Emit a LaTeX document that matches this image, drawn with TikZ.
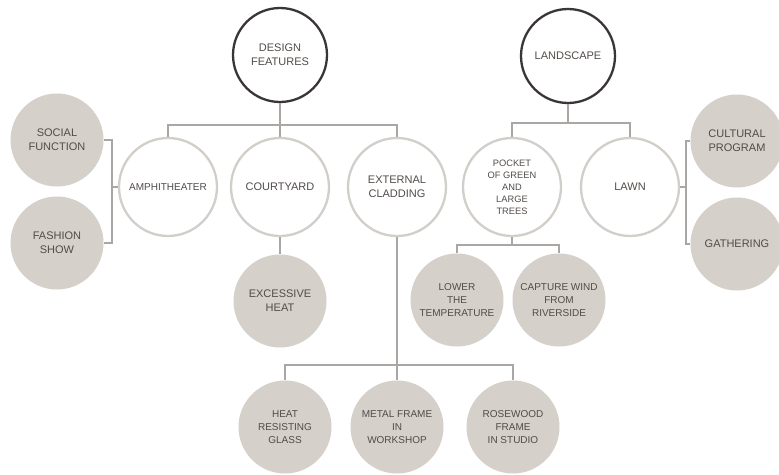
\documentclass[tikz,border=0pt]{standalone}
\usepackage{fontspec}
\setmainfont{Liberation Sans}
\definecolor{ink}{HTML}{514C49}
\definecolor{rimdark}{HTML}{3B3636}
\definecolor{rimlight}{HTML}{D2CECA}
\definecolor{stone}{HTML}{D5D0CA}
\definecolor{wire}{HTML}{A9A6A3}
\tikzset{
  bubble/.style={circle, inner sep=0pt, align=center, text=ink},
  topic/.style={bubble, draw=rimdark, line width=2.3pt, fill=white, minimum size=94pt},
  feature/.style={bubble, draw=rimlight, line width=2.3pt, fill=white, minimum size=98pt},
  detail/.style={bubble, fill=stone, minimum size=93pt},
  link/.style={draw=wire, line width=1.4pt},
  big/.style={font=\fontsize{11}{14}\selectfont},
  mid/.style={font=\fontsize{10}{13}\selectfont},
  small/.style={font=\fontsize{9.3}{12}\selectfont},
}
\begin{document}
\begin{tikzpicture}[x=1pt, y=-1pt]
\useasboundingbox (0,0) rectangle (779,474);

% main topics
\node[topic, big] (df) at (280,55) {DESIGN\\FEATURES};
\node[topic, big] (ls) at (568,56) {LANDSCAPE};

% features
\node[feature, mid] (am) at (168,187) {AMPHITHEATER};
\node[feature, big] (co) at (280,187) {COURTYARD};
\node[feature, big] (ec) at (397,187) {EXTERNAL\\CLADDING};
\node[feature, small] (po) at (512,187) {POCKET\\OF GREEN\\AND\\LARGE\\TREES};
\node[feature, big] (lw) at (630,187) {LAWN};

% details
\node[detail, big] (sf) at (57,140) {SOCIAL\\FUNCTION};
\node[detail, big] (fs) at (57,243) {FASHION\\SHOW};
\node[detail, big] (eh) at (280,301) {EXCESSIVE\\HEAT};
\node[detail, mid] (hg) at (285,427) {HEAT\\RESISTING\\GLASS};
\node[detail, mid] (mf) at (397,427) {METAL FRAME\\IN\\WORKSHOP};
\node[detail, mid] (rw) at (513,427) {ROSEWOOD\\FRAME\\IN STUDIO};
\node[detail, mid] (lt) at (457,300) {LOWER\\THE\\TEMPERATURE};
\node[detail, mid] (cw) at (559,300) {CAPTURE WIND\\FROM\\RIVERSIDE};
\node[detail, big] (cp) at (737,141) {CULTURAL\\PROGRAM};
\node[detail, big] (ga) at (737,244) {GATHERING};

% junction points
\coordinate (dfj) at (280,125);
\coordinate (lsj) at (568,123);
\coordinate (ecj) at (397,365);
\coordinate (poj) at (512,245);
\coordinate (lbj) at (112,187);
\coordinate (rbj) at (686,187);

% design features tree
\draw[link] (df.south) -- (dfj);
\draw[link] (am.north) -- (am.north |- dfj) -- (ec.north |- dfj) -- (ec.north);
\draw[link] (co.north) -- (dfj);

% landscape tree
\draw[link] (ls.south) -- (lsj);
\draw[link] (po.north) -- (po.north |- lsj) -- (lw.north |- lsj) -- (lw.north);

% amphitheater bracket
\draw[link] (sf.east) -| (lbj) |- (fs.east);
\draw[link] (lbj) -- (am.west);

% lawn bracket
\draw[link] (cp.west) -| (rbj) |- (ga.west);
\draw[link] (lw.east) -- (rbj);

% courtyard
\draw[link] (co.south) -- (eh.north);

% cladding options
\draw[link] (ec.south) -- (ecj);
\draw[link] (hg.north) -- (hg.north |- ecj) -- (rw.north |- ecj) -- (rw.north);
\draw[link] (mf.north) -- (ecj);

% green pocket effects
\draw[link] (po.south) -- (poj);
\draw[link] (lt.north) -- (lt.north |- poj) -- (cw.north |- poj) -- (cw.north);
\end{tikzpicture}
\end{document}
